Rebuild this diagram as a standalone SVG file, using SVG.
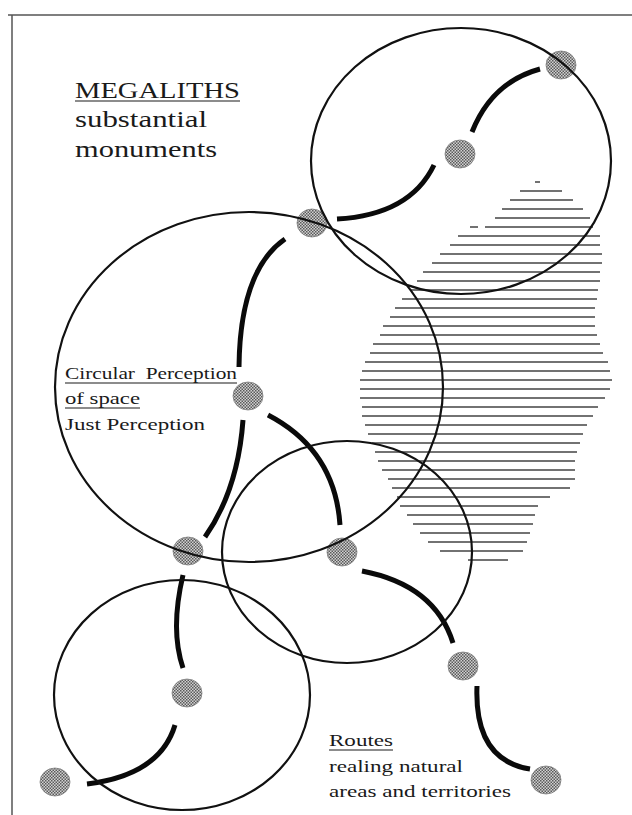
<svg xmlns="http://www.w3.org/2000/svg" width="632" height="815" viewBox="0 0 632 815">
<defs>
<pattern id="stip" patternUnits="userSpaceOnUse" width="3" height="3">
<rect width="3" height="3" fill="#d2d2d2"/>
<rect width="1.5" height="1.5" fill="#5a5a5a"/>
<rect x="1.5" y="1.5" width="1.5" height="1.5" fill="#5a5a5a"/>
</pattern>
</defs>
<style>
.frame{stroke:#555;stroke-width:1.5;fill:none}
.ring{fill:none;stroke:#111;stroke-width:2.2}
.dot{fill:url(#stip);stroke:#808080;stroke-width:0.8}
.route{fill:none;stroke:#0a0a0a;stroke-width:5;stroke-linecap:butt}
.hatch{fill:none;stroke:#444;stroke-width:1.4}
.t{font-family:"Liberation Serif","Times New Roman",serif;fill:#1a1a1a}
.big{font-size:23px}
.mid{font-size:17px}
.ul{stroke:#1a1a1a;stroke-width:1.2}
</style>
<rect width="632" height="815" fill="#fff"/>
<g id="frame">
<line class="frame" x1="8" y1="15" x2="632" y2="15"/>
<line class="frame" x1="12" y1="15" x2="12" y2="815"/>
</g>
<g id="hatched-area">
<path class="hatch" d="M535,182H540M520,191H562M510,200H573M502,209H583M495,218H590M470,227H478M485,227H593M458,236H600M450,245H600M440,254H602M432,263H602M423,272H600M417,281H600M410,290H598M402,299H597M395,308H595M390,317H595M383,326H595M380,335H597M373,344H600M370,353H603M365,362H608M362,371H610M360,380H612M360,389H610M360,398H605M362,407H598M362,416H593M365,425H587M368,434H583M372,443H580M375,452H577M378,461H575M382,470H575M388,479H575M392,488H570M397,497H550M400,506H538M407,515H535M413,524H533M420,533H530M428,542H527M440,551H523M468,560H508"/>
</g>
<g id="connectors">
<path class="route" d="M540,69Q492,82 472,132"/>
<path class="route" d="M434,165Q410,215 337,219"/>
<path class="route" d="M285,239Q240,270 239,367"/>
<path class="route" d="M243,420Q238,490 205,537"/>
<path class="route" d="M268,415Q335,450 340,525"/>
<path class="route" d="M362,571Q435,585 453,643"/>
<path class="route" d="M477,686Q474,760 530,769"/>
<path class="route" d="M183,575Q170,630 183,668"/>
<path class="route" d="M175,725Q160,775 87,784"/>
</g>
<g id="node-d1"><ellipse class="dot" cx="561" cy="65" rx="15" ry="14"/></g>
<g id="node-d2"><ellipse class="dot" cx="460" cy="154" rx="15" ry="14"/></g>
<g id="node-d3"><ellipse class="dot" cx="312" cy="223" rx="15" ry="14"/></g>
<g id="node-d4"><ellipse class="dot" cx="248" cy="396" rx="15" ry="14"/></g>
<g id="node-d5"><ellipse class="dot" cx="188" cy="551" rx="15" ry="14"/></g>
<g id="node-d6"><ellipse class="dot" cx="342" cy="552" rx="15" ry="14"/></g>
<g id="node-d7"><ellipse class="dot" cx="463" cy="666" rx="15" ry="14"/></g>
<g id="node-d8"><ellipse class="dot" cx="187" cy="693" rx="15" ry="14"/></g>
<g id="node-d9"><ellipse class="dot" cx="55" cy="782" rx="15" ry="14"/></g>
<g id="node-d10"><ellipse class="dot" cx="546" cy="780" rx="15" ry="14"/></g>
<g id="circle-top"><ellipse class="ring" cx="461" cy="161" rx="150" ry="133"/></g>
<g id="circle-large"><ellipse class="ring" cx="249" cy="387" rx="194" ry="175"/></g>
<g id="circle-middle"><ellipse class="ring" cx="347" cy="552" rx="125" ry="111"/></g>
<g id="circle-bottom"><ellipse class="ring" cx="182" cy="695" rx="128" ry="115"/></g>
<g id="label-megaliths">
<text class="t big" x="75" y="98" textLength="165" lengthAdjust="spacingAndGlyphs">MEGALITHS</text>
<line class="ul" x1="75" y1="101" x2="240" y2="101"/>
<text class="t big" x="75" y="127" textLength="132" lengthAdjust="spacingAndGlyphs">substantial</text>
<text class="t big" x="75" y="157" textLength="142" lengthAdjust="spacingAndGlyphs">monuments</text>
</g>
<g id="label-perception">
<text class="t mid" x="65" y="379" textLength="172" lengthAdjust="spacingAndGlyphs" xml:space="preserve">Circular  Perception</text>
<line class="ul" x1="65" y1="383" x2="237" y2="383"/>
<text class="t mid" x="65" y="404" textLength="75" lengthAdjust="spacingAndGlyphs">of space</text>
<line class="ul" x1="65" y1="408" x2="140" y2="408"/>
<text class="t mid" x="65" y="430" textLength="140" lengthAdjust="spacingAndGlyphs">Just Perception</text>
</g>
<g id="label-routes">
<text class="t mid" x="329" y="746" textLength="64" lengthAdjust="spacingAndGlyphs">Routes</text>
<line class="ul" x1="329" y1="750" x2="393" y2="750"/>
<text class="t mid" x="329" y="772" textLength="134" lengthAdjust="spacingAndGlyphs">realing natural</text>
<text class="t mid" x="329" y="797" textLength="182" lengthAdjust="spacingAndGlyphs">areas and territories</text>
</g>
</svg>
